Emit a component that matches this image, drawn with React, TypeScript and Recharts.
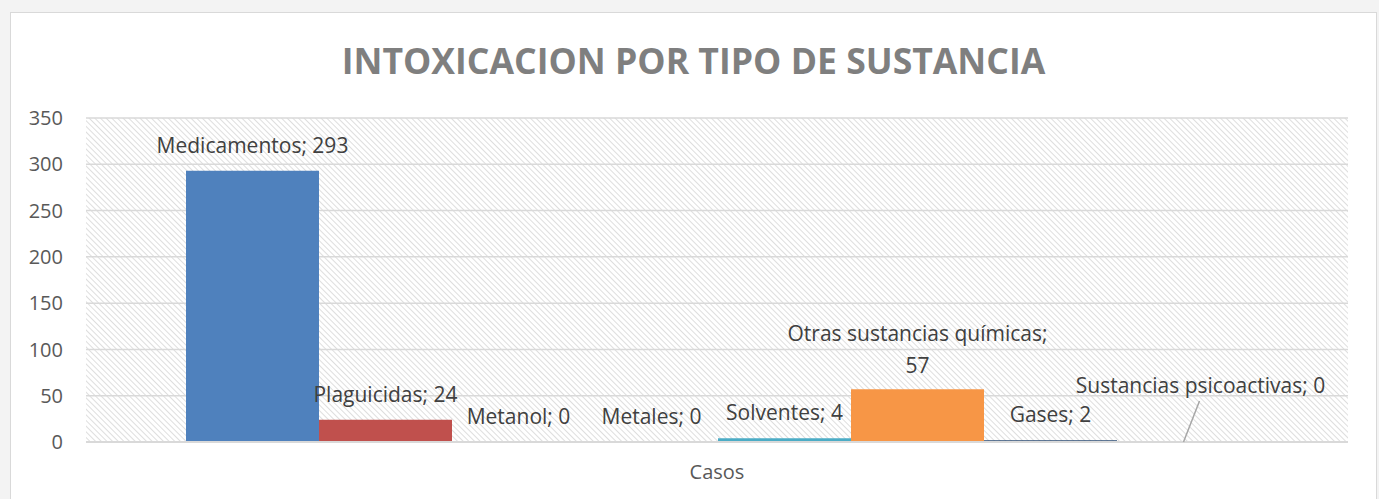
import { Bar, BarChart, CartesianGrid, LabelList, XAxis, YAxis } from "recharts"

const categories = ["Casos"]
const seriesNames = [
  "Medicamentos",
  "Plaguicidas",
  "Metanol",
  "Metales",
  "Solventes",
  "Otras sustancias químicas",
  "Gases",
  "Sustancias psicoactivas",
]
const seriesValues = [293, 24, 0, 0, 4, 57, 2, 0]
const yTicks = [0, 50, 100, 150, 200, 250, 300, 350]

const colors = ["#4f81bd", "#c0504d", "#9bbb59", "#8064a2", "#4bacc6", "#f79646", "#2c4d75", "#772c2a"]

const FONT = "'Open Sans', sans-serif"

const data = categories.map((name) => {
  const row: Record<string, string | number> = { name }
  seriesNames.forEach((s, i) => {
    row[s] = seriesValues[i]
  })
  return row
})

function renderLabel(props: any, i: number) {
  const { x, y, width, height, value } = props
  const cx = Number(x) + Number(width) / 2
  // top of the bar (tiny bars for zero values keep the baseline)
  const top = Number(y) + (Number(value) === 0 ? Number(height) : 0)
  const name = seriesNames[i]
  const style = { fontFamily: FONT, fontSize: 21, fill: "#404040" }
  if (name === "Otras sustancias químicas") {
    return (
      <g>
        <text x={cx} y={top - 56} textAnchor="middle" dominantBaseline="central" style={style}>
          {name};
        </text>
        <text x={cx} y={top - 24} textAnchor="middle" dominantBaseline="central" style={style}>
          {value}
        </text>
      </g>
    )
  }
  if (name === "Sustancias psicoactivas") {
    return (
      <g>
        <line x1={cx} y1={top} x2={cx + 16} y2={top - 41} stroke="#a6a6a6" strokeWidth={1.5} />
        <text x={cx + 17} y={top - 57} textAnchor="middle" dominantBaseline="central" style={style}>
          {`${name}; ${value}`}
        </text>
      </g>
    )
  }
  return (
    <text x={cx} y={top - 26} textAnchor="middle" dominantBaseline="central" style={style}>
      {`${name}; ${value}`}
    </text>
  )
}

export default function App() {
  return (
    <div
      style={{
        position: "absolute",
        left: 0,
        top: 0,
        width: 1379,
        height: 499,
        background: "#f3f3f3",
        overflow: "hidden",
        fontFamily: FONT,
      }}
    >
      <div
        style={{
          position: "absolute",
          left: 10,
          top: 12,
          width: 1365,
          height: 500,
          background: "#ffffff",
          border: "1px solid #d9d9d9",
        }}
      />
      <div
        style={{
          position: "absolute",
          left: 0,
          top: 38,
          width: 1379,
          textAlign: "center",
          fontSize: 35.6,
          fontWeight: 700,
          color: "#7f7f7f",
          lineHeight: "44px",
          paddingLeft: 8,
          boxSizing: "border-box",
        }}
      >
        INTOXICACION POR TIPO DE SUSTANCIA
      </div>
      <div style={{ position: "absolute", left: 0, top: 0 }}>
        <BarChart
          width={1379}
          height={499}
          data={data}
          margin={{ top: 118, right: 31, bottom: 0, left: 0 }}
          barGap={0}
          barCategoryGap={100}
        >
          <defs>
            <pattern id="hatch" width={4} height={4} patternUnits="userSpaceOnUse" patternTransform="rotate(45)">
              <line x1={0} y1={0} x2={4} y2={0} stroke="#d6d6d6" strokeWidth={1.6} />
            </pattern>
          </defs>
          <CartesianGrid vertical={false} stroke="#d9d9d9" strokeWidth={1.5} fill="url(#hatch)" />
          <XAxis
            dataKey="name"
            height={57}
            tickLine={false}
            tickSize={0}
            tickMargin={23}
            axisLine={{ stroke: "#d9d9d9", strokeWidth: 2 }}
            tick={{ fontFamily: FONT, fontSize: 20, fill: "#595959" }}
          />
          <YAxis
            width={86}
            domain={[0, 350]}
            ticks={yTicks}
            interval={0}
            axisLine={false}
            tickLine={false}
            tickSize={0}
            tickMargin={23}
            tick={{ fontFamily: FONT, fontSize: 20, fill: "#595959" }}
          />
          {seriesNames.map((s, i) => (
            <Bar key={s} dataKey={s} fill={colors[i]} minPointSize={0.01} isAnimationActive={false}>
              <LabelList dataKey={s} content={(p: any) => renderLabel(p, i)} />
            </Bar>
          ))}
        </BarChart>
      </div>
    </div>
  )
}
